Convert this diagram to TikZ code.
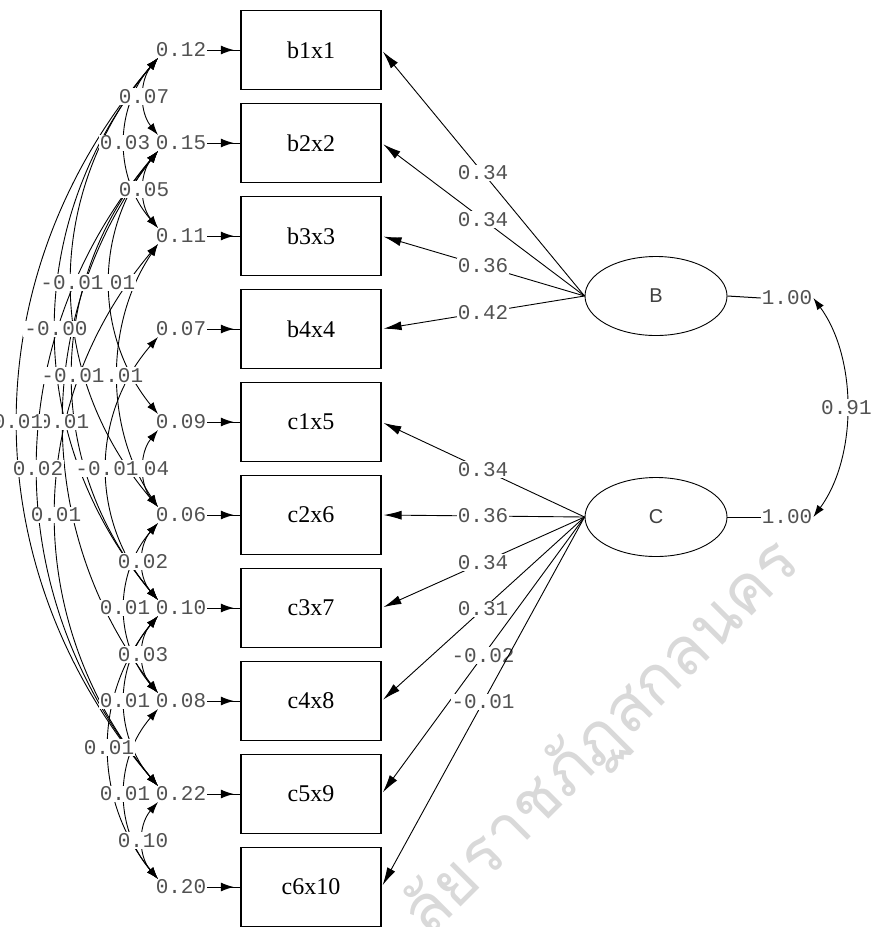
\documentclass[tikz,border=0pt]{standalone}
\usepackage{fontspec}
\usetikzlibrary{arrows.meta,decorations.markings,shapes.geometric}
\newfontfamily\monof{Liberation Mono}
\newfontfamily\seriff{Liberation Serif}
\newfontfamily\sansf{Liberation Sans}
\newfontfamily\thaif[Script=Thai]{Loma}
\definecolor{labc}{gray}{0.32}
\definecolor{wmc}{gray}{0.85}
\newcommand{\ecovarc}[3]{%
  \pgfmathsetmacro{\dlen}{(#2-#1)*93-16}%
  \pgfmathsetmacro{\cdx}{(#3-39.5)/0.75-158}%
  \draw[ecov] (eb#1) .. controls +(\cdx,0.3*\dlen) and +(\cdx,-0.3*\dlen) .. (et#2);}
\newcommand{\ecovlab}[5]{%
  \pgfmathsetmacro{\ymid}{50+93*(#2-1)/2+93*(#3-1)/2}%
  \node[numw] (#1) at (#4,\ymid) {#5};}
\begin{document}
\begin{tikzpicture}[x=1pt,y=-1pt,
  obs/.style={draw, line width=1.2pt, minimum width=140pt, minimum height=79pt, inner sep=0pt,
    font=\seriff\fontsize{24}{24}\selectfont},
  lat/.style={draw, ellipse, line width=0.9pt, minimum width=142pt, minimum height=79pt,
    font=\sansf\fontsize{20}{20}\selectfont, text=black!75},
  num/.style={font=\monof\fontsize{21}{21}\selectfont, text=labc, inner sep=1pt},
  numw/.style={num, fill=white},
  load/.style={line width=0.9pt, -{Latex[length=18pt,width=9pt]}, shorten >=2pt},
  errar/.style={line width=1pt, postaction={decorate},
    decoration={markings, mark=at position 0.8 with {\arrow{Latex[length=13pt,width=9pt]}}}},
  ecov/.style={line width=0.9pt, {Latex[length=12pt,width=8pt]}-{Latex[length=12pt,width=8pt]}},
  plain/.style={line width=1pt}
]
\useasboundingbox (0,0) rectangle (878,927);

% watermark
\node[rotate=45, text=wmc, font=\thaif\fontsize{66}{66}\selectfont, anchor=base west, inner sep=0pt]
  (wm) at (428,940) {ลัยราชภัฏสกลนคร};

% observed variables
\foreach \i/\t in {1/b1x1,2/b2x2,3/b3x3,4/b4x4,5/c1x5,6/c2x6,7/c3x7,8/c4x8,9/c5x9,10/c6x10}
  \node[obs] (x\i) at (311,{50+93*(\i-1)}) {\t};

% error variances
\foreach \i/\v in {1/0.12,2/0.15,3/0.11,4/0.07,5/0.09,6/0.06,7/0.10,8/0.08,9/0.22,10/0.20}{
  \node[num] (e\i) at (181,{50+93*(\i-1)}) {\v};
  \draw[errar] (e\i) -- (x\i);
  \coordinate (et\i) at (158,{50+93*(\i-1)-8});
  \coordinate (eb\i) at (158,{50+93*(\i-1)+8});
}

% error covariances
\ecovarc{1}{2}{144}
\ecovarc{1}{3}{125}
\ecovarc{2}{3}{144}
\ecovarc{2}{5}{110}
\ecovarc{1}{6}{72}
\ecovarc{1}{7}{56}
\ecovarc{3}{6}{118}
\ecovarc{2}{7}{73}
\ecovarc{2}{8}{64}
\ecovarc{1}{9}{18}
\ecovarc{2}{9}{38}
\ecovarc{5}{6}{144}
\ecovarc{4}{7}{107}
\ecovarc{3}{9}{56}
\ecovarc{6}{7}{143}
\ecovarc{6}{8}{125}
\ecovarc{7}{8}{143}
\ecovarc{7}{9}{125}
\ecovarc{7}{10}{109}
\ecovarc{8}{10}{125}
\ecovarc{9}{10}{143}

\ecovlab{l1}{1}{2}{144}{0.07}
\ecovlab{l2}{1}{3}{125}{0.03}
\ecovlab{l3}{2}{3}{144}{0.05}
\ecovlab{l4}{2}{5}{110}{0.01}
\ecovlab{l5}{1}{6}{72}{-0.01}
\ecovlab{l6}{1}{7}{56}{-0.00}
\ecovlab{l7}{3}{6}{118}{0.01}
\ecovlab{l8}{2}{7}{73}{-0.01}
\ecovlab{l9}{2}{8}{64}{0.01}
\ecovlab{l10}{1}{9}{18}{0.01}
\ecovlab{l11}{2}{9}{38}{0.02}
\ecovlab{l12}{5}{6}{144}{0.04}
\ecovlab{l13}{4}{7}{107}{-0.01}
\ecovlab{l14}{3}{9}{56}{0.01}
\ecovlab{l15}{6}{7}{143}{0.02}
\ecovlab{l16}{6}{8}{125}{0.01}
\ecovlab{l17}{7}{8}{143}{0.03}
\ecovlab{l18}{7}{9}{125}{0.01}
\ecovlab{l19}{7}{10}{109}{0.01}
\ecovlab{l20}{8}{10}{125}{0.01}
\ecovlab{l21}{9}{10}{143}{0.10}

% latent variables
\node[lat] (B) at (656,296) {B};
\node[lat] (C) at (656,517) {C};

\foreach \i/\v in {1/0.34,2/0.34,3/0.36,4/0.42}
  \draw[load] (B.west) -- node[numw] (lb\i) {\v} (x\i.east);
\foreach \i/\v in {5/0.34,6/0.36,7/0.34,8/0.31,9/-0.02,10/-0.01}
  \draw[load] (C.west) -- node[numw] (lc\i) {\v} (x\i.east);

% latent variances and covariance
\node[num] (vB) at (787,298) {1.00};
\node[num] (vC) at (787,517) {1.00};
\draw[plain] (B.east) -- (vB.west);
\draw[plain] (C.east) -- (vC.west);
\draw[ecov] (vB.east) .. controls +(44,60) and +(44,-60) .. node[numw] (phi) {0.91} (vC.east);
\end{tikzpicture}
\end{document}
